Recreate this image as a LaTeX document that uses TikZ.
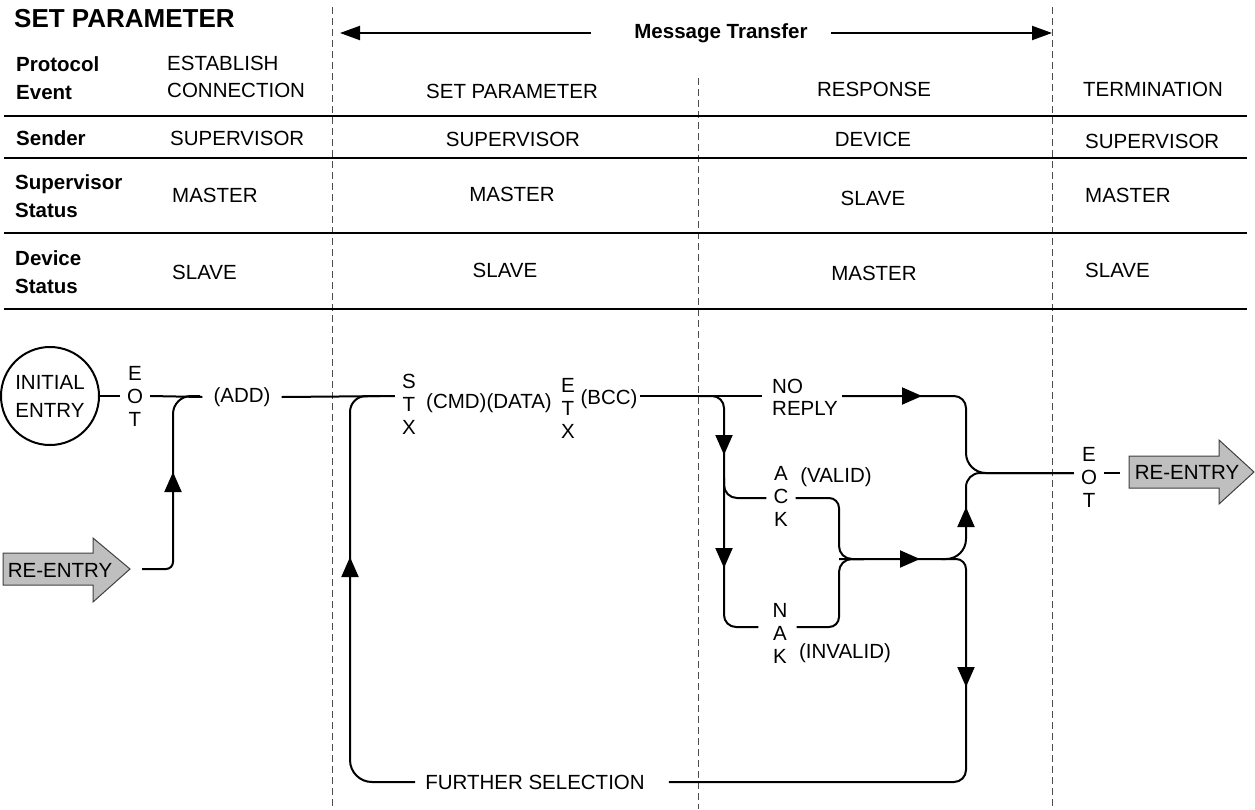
\documentclass[tikz,border=0pt]{standalone}
\usepackage{fontspec}
\setmainfont{Liberation Sans}
\usetikzlibrary{arrows.meta}
\begin{document}
\begin{tikzpicture}[x=1pt,y=-1pt,
  txt/.style={font=\fontsize{20.5}{27}\selectfont, inner sep=0pt},
  hd/.style={font=\fontsize{20.5}{28}\selectfont\bfseries, inner sep=0pt, anchor=west, align=left},
  stk/.style={font=\fontsize{20.5}{23}\selectfont, inner sep=0pt, inner xsep=7pt, align=center},
  rule/.style={line width=2.2pt},
  sep/.style={draw=black!70, line width=1pt, dash pattern=on 7pt off 4pt},
  flow/.style={line width=2pt},
  tip/.style={-{Triangle[length=20pt,width=17pt]}},
  mtip/.style={-{Triangle[length=20pt,width=14pt]}},
  reshape/.style={fill=black!25, draw=black!75, line width=1pt}
]
\useasboundingbox (0,0) rectangle (1255,809);

% column separators
\draw[sep] (332,7) -- (332,809);
\draw[sep] (698,78) -- (698,809);
\draw[sep] (1052,7) -- (1052,809);

% table rules
\foreach \yy in {116,158,233,309} \draw[rule] (4,\yy) -- (1247,\yy);

% title and message transfer
\node[font=\fontsize{26}{30}\selectfont\bfseries, inner sep=0pt, anchor=west] (title) at (14,19) {SET PARAMETER};
\node[hd, anchor=center] (mt) at (721,33) {Message Transfer};
\coordinate (mtL) at (340,33);
\coordinate (mtR) at (1052,33);
\draw[flow, mtip] ([xshift=-43pt]mt.west) -- (mtL);
\draw[flow, mtip] ([xshift=23pt]mt.east) -- (mtR);

% table text
\node[hd] (pe) at (16,78.5) {Protocol\\Event};
\node[txt, anchor=west, align=left] (c1r1) at (167,76.5) {ESTABLISH\\CONNECTION};
\node[txt] (c2r1) at (512,91) {SET PARAMETER};
\node[txt] (c3r1) at (874,89) {RESPONSE};
\node[txt, anchor=west] (c4r1) at (1083,89) {TERMINATION};

\node[hd] (snd) at (16,138) {Sender};
\node[txt, anchor=west] (c1r2) at (170,138) {SUPERVISOR};
\node[txt] (c2r2) at (513,139) {SUPERVISOR};
\node[txt] (c3r2) at (873,139) {DEVICE};
\node[txt, anchor=west] (c4r2) at (1085,141) {SUPERVISOR};

\node[hd] (sst) at (15,196) {Supervisor\\Status};
\node[txt, anchor=west] (c1r3) at (172,195) {MASTER};
\node[txt] (c2r3) at (512,194) {MASTER};
\node[txt] (c3r3) at (873,198) {SLAVE};
\node[txt, anchor=west] (c4r3) at (1085,195) {MASTER};

\node[hd] (dst) at (15,272.5) {Device\\Status};
\node[txt, anchor=west] (c1r4) at (172,272) {SLAVE};
\node[txt] (c2r4) at (505,270) {SLAVE};
\node[txt] (c3r4) at (874,273) {MASTER};
\node[txt, anchor=west] (c4r4) at (1085,270) {SLAVE};

% flow nodes
\node[draw, circle, line width=2pt, minimum size=98pt, inner sep=0pt, align=center,
      font=\fontsize{20.5}{28}\selectfont] (init) at (50,396) {INITIAL\\ENTRY};
\node[stk] (eot1) at (135,396) {E\\O\\T};
\node[txt, inner xsep=11pt] (add) at (242,397) {(ADD)};
\node[stk] (stx) at (409,404) {S\\T\\X};
\node[txt] (cmd) at (489,403) {(CMD)(DATA)};
\node[stk] (etx) at (568,408) {E\\T\\X};
\node[txt] (bcc) at (609,399) {(BCC)};
\node[txt, anchor=west, align=left, font=\fontsize{20.5}{22}\selectfont] (nr) at (772,397) {NO\\REPLY};
\node[stk] (ack) at (781,496) {A\\C\\K};
\node[txt] (valid) at (836,477) {(VALID)};
\node[stk] (nak) at (780,633) {N\\A\\K};
\node[txt] (invalid) at (845,653) {(INVALID)};
\node[stk] (eot2) at (1089,477) {E\\O\\T};
\node[txt] (fs) at (535,782) {FURTHER SELECTION};

% re-entry arrows
\draw[reshape] (3,553) -- (93,553) -- (93,538) -- (130,569) -- (93,602) -- (93,585) -- (3,585) -- cycle;
\node[txt] (reL) at (60,570) {RE-ENTRY};
\coordinate (reLtip) at (130,569);
\draw[reshape] (1129,456) -- (1219,456) -- (1219,440) -- (1254,472) -- (1219,504) -- (1219,488) -- (1129,488) -- cycle;
\node[txt] (reR) at (1187,472) {RE-ENTRY};
\coordinate (reRtail) at (1129,473);

% junctions
\coordinate (jA) at (173,396);
\coordinate (jB) at (350,396);
\coordinate (jC) at (724,396);
\coordinate (jD) at (966,396);
\coordinate (jE) at (966,473);
\coordinate (jF) at (839,498);
\coordinate (jG) at (839,559);
\coordinate (jH) at (839,627);
\coordinate (jI) at (966,559);
\coordinate (jJ) at (966,782);
\coordinate (jK) at (350,782);
\coordinate (jL) at (724,498);
\coordinate (jM) at (724,627);

% main line
\draw[flow] (init.east) -- (eot1.west);
\draw[flow] (eot1.east) -- (add.west);
\draw[flow] (add.east) -- (stx.west |- jB);
\draw[flow] ([xshift=2.5pt]bcc.east |- jC) -- ([xshift=-10pt]nr.west |- jC);

% re-entry merge
\draw[flow] ([xshift=12pt]reLtip) [rounded corners=7pt] -- (jA |- reLtip) [rounded corners=18pt] -- (jA) -- ([xshift=27pt]jA);

% further selection loop
\draw[flow] ([xshift=-10pt]fs.west |- jK) [rounded corners=22pt] -- (jK) [rounded corners=16pt] -- (jB) -- ([xshift=30pt]jB);
\draw[flow] ([xshift=-25pt]jI) [rounded corners=10pt] -- (jI) [rounded corners=12pt] -- (jJ) -- ([xshift=24pt]fs.east |- jJ);

% response branches
\draw[flow] ([xshift=-25pt]jC) [rounded corners=12pt] -- (jC) -- (jM) -- ([xshift=-7pt]nak.west |- jM);
\draw[flow] ([yshift=20pt]jL) [rounded corners=13pt] -- (jL) -- (ack.west |- jL);
\draw[flow] (ack.east |- jL) [rounded corners=10pt] -- (jF) [rounded corners=13pt] -- (jG) -- ([xshift=25pt]jG);
\draw[flow] ([xshift=2pt]nak.east |- jM) [rounded corners=10pt] -- (jH) [rounded corners=13pt] -- (jG) -- ([xshift=25pt]jG);
\draw[flow] (jG) [rounded corners=20pt] -- (jI) [rounded corners=14pt] -- (jE) -- (eot2.west |- jE);
\draw[flow] ([xshift=4pt]nr.east |- jD) [rounded corners=12pt] -- (jD) [rounded corners=20pt] -- (jE) -- (eot2.west |- jE);
\draw[flow] (eot2.east |- jE) -- ([xshift=-9pt]reRtail);

% arrowheads on lines
\draw[flow, tip] (173,505) -- (173,472);
\draw[flow, tip] (350,590) -- (350,557);
\draw[flow, tip] (724,425) -- (724,455);
\draw[flow, tip] (724,538) -- (724,568);
\draw[flow, tip] (885,396) -- (922,396);
\draw[flow, tip] (885,559) -- (920,559);
\draw[flow, tip] (966,540) -- (966,507);
\draw[flow, tip] (966,655) -- (966,687);
\end{tikzpicture}
\end{document}
